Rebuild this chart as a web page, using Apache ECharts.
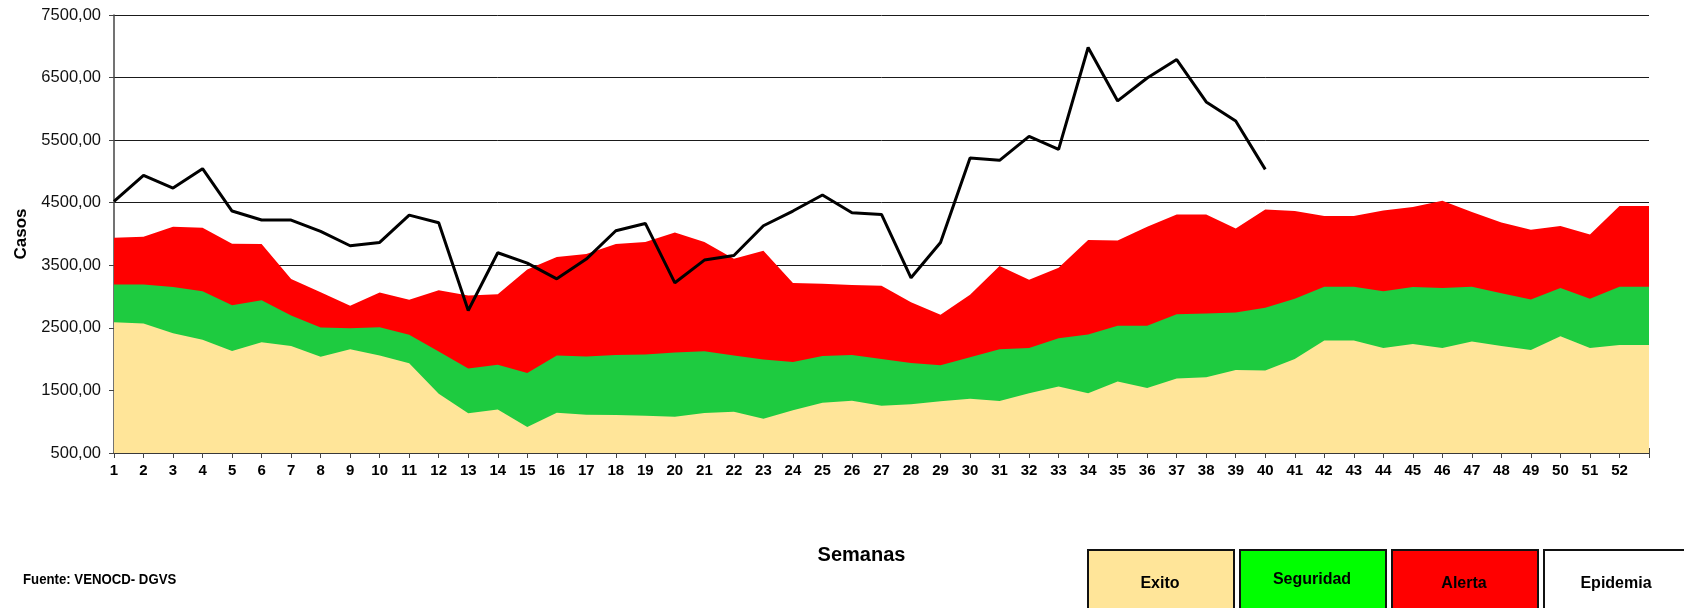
<!DOCTYPE html>
<html>
<head>
<meta charset="utf-8">
<title>Casos por semana</title>
<script src="https://cdn.jsdelivr.net/npm/echarts@6/dist/echarts.min.js"></script>
<style>
  html, body { margin: 0; padding: 0; background: #fff; }
  #chart { width: 1684px; height: 608px; }
</style>
</head>
<body>
<div id="chart"></div>
<script>
// semanas 1..52, la 53 cierra el area a la derecha (sin etiqueta)
var weekLabels = ['1','2','3','4','5','6','7','8','9','10','11','12','13','14','15','16','17','18','19','20',
  '21','22','23','24','25','26','27','28','29','30','31','32','33','34','35','36','37','38','39','40',
  '41','42','43','44','45','46','47','48','49','50','51','52',''];

// limites superiores de cada zona (canal endemico)
var exito = [2590, 2570, 2415, 2310, 2130, 2270, 2210, 2040, 2160, 2060, 1935, 1445, 1135, 1195, 916, 1145,
  1113, 1108, 1097, 1081, 1140, 1161, 1049, 1183, 1305, 1337, 1257, 1279, 1327, 1369, 1332, 1455, 1561,
  1455, 1641, 1540, 1689, 1711, 1828, 1817, 2004, 2297, 2297, 2180, 2244, 2180, 2281, 2212, 2148, 2367,
  2180, 2228, 2228];
var seguridad = [3193, 3193, 3151, 3087, 2863, 2943, 2697, 2505, 2495, 2511, 2388, 2121, 1849, 1910, 1780,
  2057, 2041, 2068, 2073, 2105, 2127, 2057, 1993, 1956, 2052, 2068, 2004, 1940, 1903, 2031, 2159, 2180,
  2335, 2393, 2532, 2532, 2719, 2729, 2745, 2820, 2964, 3156, 3156, 3087, 3151, 3135, 3156, 3055, 2953,
  3135, 2964, 3156, 3156];
var alerta = [3940, 3956, 4116, 4100, 3844, 3839, 3279, 3071, 2852, 3065, 2948, 3103, 3017, 3036, 3433,
  3631, 3679, 3839, 3871, 4025, 3871, 3604, 3732, 3215, 3204, 3183, 3172, 2911, 2708, 3028, 3487, 3268,
  3460, 3903, 3897, 4116, 4313, 4313, 4089, 4393, 4367, 4287, 4287, 4377, 4431, 4532, 4351, 4185, 4068,
  4127, 3993, 4447, 4447];
// casos notificados (hasta la semana 40)
var casos = [4521, 4937, 4735, 5044, 4367, 4223, 4223, 4041, 3812, 3865, 4302, 4180, 2777, 3700, 3535,
  3284, 3599, 4052, 4169, 3220, 3583, 3657, 4132, 4367, 4623, 4340, 4313, 3300, 3865, 5215, 5177, 5561,
  5353, 6980, 6127, 6494, 6788, 6111, 5807, 5033];

var yTicks = [500, 1500, 2500, 3500, 4500, 5500, 6500, 7500];
var legendNames = ['Exito', 'Seguridad', 'Alerta', 'Epidemia'];
var legendColors = ['#FFE599', '#00FF00', '#FF0000', '#FFFFFF'];

var arial = "'Liberation Sans', Arial, sans-serif";

var chart = echarts.init(document.getElementById('chart'), null, { renderer: 'canvas' });

// cajas de la leyenda abajo a la derecha
var legendGraphics = [];
legendNames.forEach(function (name, i) {
  var x = 1087 + i * 152;
  legendGraphics.push({
    type: 'rect',
    left: x, top: 549,
    shape: { width: 146, height: 80 },
    style: { fill: legendColors[i], stroke: '#111', lineWidth: 2 }
  });
  legendGraphics.push({
    type: 'text',
    x: x + 73, y: name === 'Seguridad' ? 580 : 584,
    style: {
      text: name, fill: '#000', align: 'center', verticalAlign: 'middle',
      font: 'bold 16px ' + arial
    }
  });
});

chart.setOption({
  backgroundColor: '#fff',
  animation: false,
  grid: { left: 114, right: 35, top: 15, bottom: 155 },
  xAxis: [{
    type: 'category',
    boundaryGap: false,
    data: weekLabels,
    name: 'Semanas',
    nameLocation: 'middle',
    nameGap: 92,
    nameTextStyle: { fontFamily: arial, fontWeight: 'bold', fontSize: 20, color: '#000', padding: [0, 40, 0, 0] },
    axisLine: { lineStyle: { color: '#444', width: 1.5 } },
    axisTick: { show: true, length: 5, interval: 0, lineStyle: { color: '#444' } },
    axisLabel: { interval: 0, margin: 10, fontFamily: arial, fontWeight: 'bold', fontSize: 15, color: '#000' },
    splitLine: { show: false }
  }, {
    type: 'category',
    boundaryGap: false,
    data: weekLabels,
    position: 'bottom',
    axisLine: { show: false },
    axisTick: { show: true, inside: true, length: 5, interval: 0, lineStyle: { color: '#444' } },
    axisLabel: { show: false },
    splitLine: { show: false }
  }],
  yAxis: {
    type: 'value',
    min: 500,
    max: 7500,
    interval: 500,
    name: 'Casos',
    nameLocation: 'middle',
    nameGap: 84,
    nameTextStyle: { fontFamily: arial, fontWeight: 'bold', fontSize: 17, color: '#000' },
    axisLine: { show: true, lineStyle: { color: '#444', width: 1.5 } },
    axisTick: { show: true, length: 5, customValues: yTicks, lineStyle: { color: '#444' } },
    axisLabel: {
      customValues: yTicks,
      margin: 13,
      fontFamily: arial, fontSize: 16.5, color: '#111',
      formatter: function (v) { return v.toFixed(2).replace('.', ','); }
    },
    splitLine: { show: true, lineStyle: { color: '#1a1a1a', width: 1 } }
  },
  series: [{
    name: 'Alerta', type: 'line', data: alerta,
    symbol: 'none', lineStyle: { width: 0 },
    areaStyle: { color: '#FF0000', opacity: 1, origin: 'start' }
  }, {
    name: 'Seguridad', type: 'line', data: seguridad,
    symbol: 'none', lineStyle: { width: 0 },
    areaStyle: { color: '#1ECB40', opacity: 1, origin: 'start' }
  }, {
    name: 'Exito', type: 'line', data: exito,
    symbol: 'none', lineStyle: { width: 0 },
    areaStyle: { color: '#FFE599', opacity: 1, origin: 'start' }
  }, {
    name: 'Casos', type: 'line', data: casos,
    symbol: 'none', z: 5,
    lineStyle: { color: '#000', width: 3 }
  }],
  graphic: [{
    type: 'text',
    x: 23, y: 580,
    scaleX: 0.88,
    style: { text: 'Fuente: VENOCD- DGVS', fill: '#000', verticalAlign: 'middle', font: 'bold 15px ' + arial }
  }].concat(legendGraphics)
});
</script>
</body>
</html>
